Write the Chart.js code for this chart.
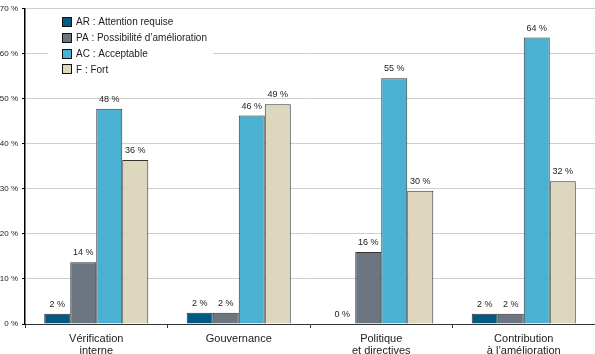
<!DOCTYPE html>
<html>
<head>
<meta charset="utf-8">
<script src="https://cdn.jsdelivr.net/npm/chart.js@4/dist/chart.umd.min.js"></script>
<style>
  html, body { margin: 0; padding: 0; background: #fff; }
  #wrap { width: 595px; height: 354px; position: relative; }
</style>
</head>
<body>
<div id="wrap"><canvas id="c" width="595" height="354"></canvas></div>
<script>
const categories = [['Vérification', 'interne'], ['Gouvernance'], ['Politique', 'et directives'], ['Contribution', 'à l\u2019amélioration']];
const seriesNames = ['AR : Attention requise', 'PA : Possibilité d\u2019amélioration', 'AC : Acceptable', 'F : Fort'];
const arValues = [2.3, 2.5, 0, 2.3];
const paValues = [13.7, 2.5, 16.0, 2.3];
const acValues = [47.8, 46.3, 54.6, 63.6];
const fValues = [36.4, 48.8, 29.6, 31.7];
const arLabels = ['2 %', '2 %', '0 %', '2 %'];
const paLabels = ['14 %', '2 %', '16 %', '2 %'];
const acLabels = ['48 %', '46 %', '55 %', '64 %'];
const fLabels = ['36 %', '49 %', '30 %', '32 %'];
const yTicks = [0, 10, 20, 30, 40, 50, 60, 70];

const colors = ['#005a84', '#6b7680', '#4bb1d2', '#dcd7bd'];
const FONT = '"Liberation Sans", Arial, Helvetica, sans-serif';

const valueSets = [arValues, paValues, acValues, fValues];
const labelSets = [arLabels, paLabels, acLabels, fLabels];

const datasets = valueSets.map((vals, i) => ({
  label: seriesNames[i],
  data: vals,
  backgroundColor: colors[i],
  borderColor: '#333333',
  borderWidth: 1,
  borderSkipped: 'bottom',
  categoryPercentage: 0.73,
  barPercentage: 1.0,
  valueLabels: labelSets[i]
}));

const valueLabelPlugin = {
  id: 'valueLabels',
  afterDatasetsDraw(chart) {
    const ctx = chart.ctx;
    ctx.save();
    ctx.font = '9px ' + FONT;
    ctx.fillStyle = '#222';
    ctx.textAlign = 'center';
    ctx.textBaseline = 'bottom';
    chart.data.datasets.forEach((ds, di) => {
      const meta = chart.getDatasetMeta(di);
      meta.data.forEach((bar, idx) => {
        const txt = ds.valueLabels[idx];
        ctx.fillText(txt, bar.x, bar.y - 5);
      });
    });
    ctx.restore();
  }
};

const legendPlugin = {
  id: 'boxLegend',
  afterDatasetsDraw(chart) {
    const ctx = chart.ctx;
    ctx.save();
    ctx.fillStyle = '#fff';
    ctx.fillRect(48, 9, 165, 70);
    ctx.font = '10px ' + FONT;
    ctx.textBaseline = 'middle';
    ctx.textAlign = 'left';
    chart.data.datasets.forEach((ds, i) => {
      const cy = 22 + i * 15.8;
      ctx.fillStyle = ds.backgroundColor;
      ctx.fillRect(62, Math.round(cy - 5), 10, 10);
      ctx.strokeStyle = '#111';
      ctx.lineWidth = 1;
      ctx.strokeRect(62.5, Math.round(cy - 5) + 0.5, 9, 9);
      ctx.fillStyle = '#222';
      ctx.fillText(ds.label, 76, cy + 0.5);
    });
    ctx.restore();
  }
};

new Chart(document.getElementById('c'), {
  type: 'bar',
  data: { labels: categories, datasets },
  plugins: [valueLabelPlugin, legendPlugin],
  options: {
    responsive: false,
    animation: false,
    devicePixelRatio: 1,
    layout: { padding: { top: 3, right: 0, left: 0, bottom: 0 } },
    plugins: { legend: { display: false }, tooltip: { enabled: false } },
    scales: {
      x: {
        grid: { display: true, drawOnChartArea: false, offset: true, tickLength: 4, color: '#333', tickColor: '#333' },
        border: { display: true, color: '#333', width: 1 },
        ticks: { color: '#222', font: { family: FONT, size: 11, lineHeight: 1.1 }, padding: 5, maxRotation: 0, autoSkip: false },
        afterFit(scale) { scale.height = 30; }
      },
      y: {
        min: 0, max: 70,
        afterBuildTicks(scale) { scale.ticks = yTicks.map(v => ({ value: v })); },
        grid: { color: '#cfcfcf', lineWidth: 1, tickLength: 3, tickColor: '#000', drawTicks: true },
        border: { display: true, color: '#000', width: 1.5 },
        ticks: { color: '#222', font: { family: FONT, size: 8 }, padding: 4, callback: v => v + ' %' },
        afterFit(scale) { scale.width = 25; }
      }
    }
  }
});
</script>
</body>
</html>
